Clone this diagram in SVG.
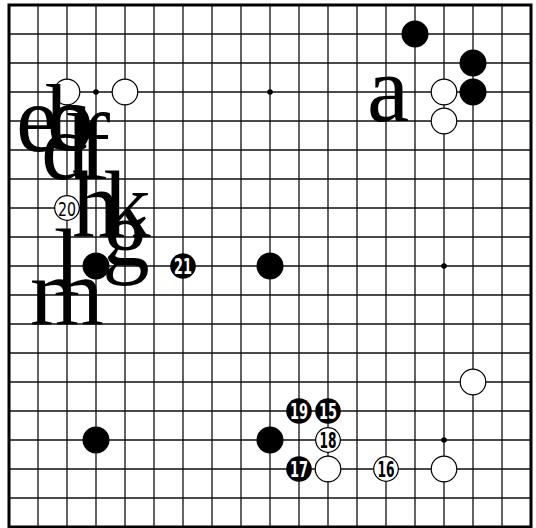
<svg xmlns="http://www.w3.org/2000/svg" width="536" height="528" viewBox="0 0 536 528">
<style>
.grid{stroke:#111;stroke-width:1.3;fill:none}
.b{fill:#000}
.w{fill:#fff;stroke:#000;stroke-width:1.2}
.hoshi{fill:#000}
.nb{fill:#fff;font-family:"Liberation Sans Narrow","DejaVu Sans Condensed","Liberation Sans",sans-serif;font-weight:bold;font-size:22px;text-anchor:middle}
.nw{fill:#000;font-family:"Liberation Sans Narrow","DejaVu Sans Condensed","Liberation Sans",sans-serif;font-weight:bold;font-size:22px;text-anchor:middle}
.lbl{fill:#000;font-family:"Liberation Serif","Times New Roman",serif;font-size:95px;text-anchor:middle}
</style>
<rect x="0" y="0" width="536" height="528" fill="#fff"/>
<g id="board">
<path class="grid" d="M38 5V527M67 5V527M96 5V527M125 5V527M154 5V527M183 5V527M212 5V527M241 5V527M270 5V527M299 5V527M328 5V527M357 5V527M386 5V527M415 5V527M444 5V527M473 5V527M502 5V527
M9 34H531M9 63H531M9 92H531M9 121H531M9 150H531M9 179H531M9 208H531M9 237H531M9 266H531M9 295H531M9 324H531M9 353H531M9 382H531M9 411H531M9 440H531M9 469H531M9 498H531"/>
<rect x="9" y="5" width="522" height="522" fill="none" stroke="#000" stroke-width="3"/>
<circle class="hoshi" cx="96" cy="92" r="2.8"/>
<circle class="hoshi" cx="270" cy="92" r="2.8"/>
<circle class="hoshi" cx="444" cy="266" r="2.8"/>
<circle class="hoshi" cx="444" cy="440" r="2.8"/>
</g>
<g id="stones">
<circle class="b" cx="415" cy="34" r="13.5"/>
<circle class="b" cx="473" cy="63" r="13.5"/>
<circle class="b" cx="473" cy="92" r="13.5"/>
<circle class="b" cx="96" cy="266" r="13.5"/>
<circle class="b" cx="270" cy="266" r="13.5"/>
<circle class="b" cx="96" cy="440" r="13.5"/>
<circle class="b" cx="270" cy="440" r="13.5"/>
<circle class="w" cx="67" cy="92" r="12.8"/>
<circle class="w" cx="125" cy="92" r="12.8"/>
<circle class="w" cx="444" cy="92" r="12.8"/>
<circle class="w" cx="444" cy="121" r="12.8"/>
<circle class="w" cx="473" cy="382" r="12.8"/>
<circle class="w" cx="328" cy="469" r="12.8"/>
<circle class="w" cx="444" cy="469" r="12.8"/>
</g>
<g id="move15"><circle class="b" cx="328" cy="411" r="12.8"/><text class="nb" x="328" y="419" textLength="18" lengthAdjust="spacingAndGlyphs">15</text></g>
<g id="move16"><circle class="w" cx="386" cy="469" r="12.3"/><text class="nw" x="386" y="477" textLength="17" lengthAdjust="spacingAndGlyphs">16</text></g>
<g id="move17"><circle class="b" cx="299" cy="469" r="12.8"/><text class="nb" x="299" y="477" textLength="18" lengthAdjust="spacingAndGlyphs">17</text></g>
<g id="move18"><circle class="w" cx="328" cy="440" r="12.3"/><text class="nw" x="328" y="448" textLength="17" lengthAdjust="spacingAndGlyphs">18</text></g>
<g id="move19"><circle class="b" cx="299" cy="411" r="12.8"/><text class="nb" x="299" y="419" textLength="18" lengthAdjust="spacingAndGlyphs">19</text></g>
<g id="move20"><circle class="w" cx="67" cy="208" r="12.3"/><text class="nw" x="67" y="215.5" textLength="18" lengthAdjust="spacingAndGlyphs" style="font-weight:normal;font-size:20px">20</text></g>
<g id="move21"><circle class="b" cx="183" cy="266" r="12.8"/><text class="nb" x="183" y="274" textLength="18" lengthAdjust="spacingAndGlyphs">21</text></g>
<g id="labels">
<text class="lbl" x="388" y="121">a</text>
<text class="lbl" x="37" y="151">e</text>
<text class="lbl" x="70" y="150">b</text>
<text class="lbl" x="68" y="150">c</text>
<text class="lbl" x="65" y="179">d</text>
<text class="lbl" x="94" y="179">f</text>
<text class="lbl" x="96" y="237">h</text>
<text class="lbl" x="127" y="237">k</text>
<text class="lbl" x="126" y="266">g</text>
<text class="lbl" x="67" y="295">l</text>
<text class="lbl" x="67" y="324">m</text>
</g>
</svg>
